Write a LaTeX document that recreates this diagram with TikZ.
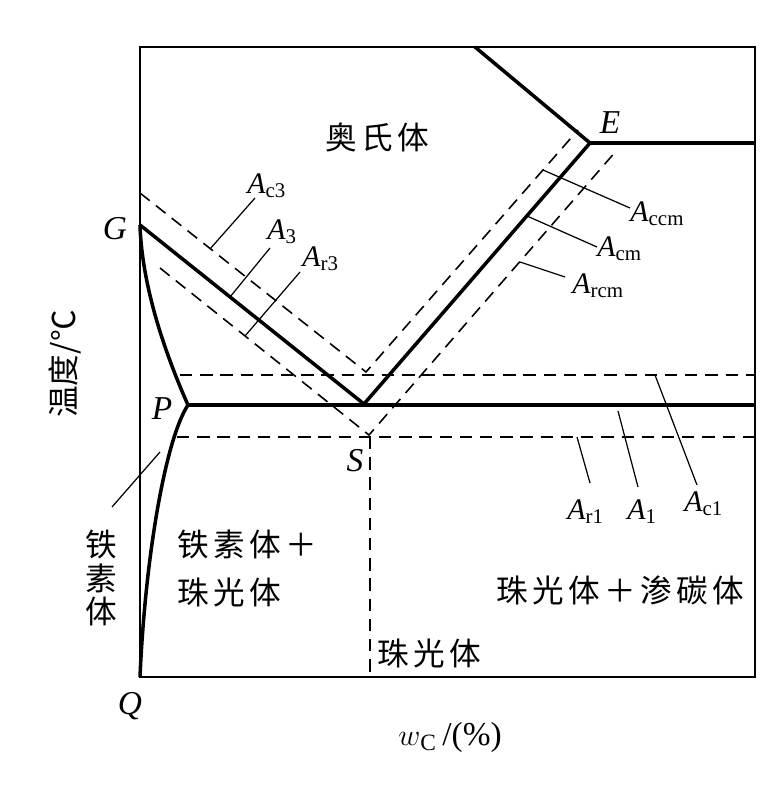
\documentclass[tikz,border=0pt]{standalone}
\usepackage{fontspec}
\setmainfont{Liberation Serif}
\newfontfamily\cjk[LetterSpace=14]{Noto Sans CJK SC}
\newfontfamily\cjkplain{Noto Sans CJK SC}
\usetikzlibrary{positioning}
\tikzset{
	frameline/.style={
			line width=1.2pt
		},
	phaseline/.style={
			line width=2pt
		},
	critline/.style={
			line width=0.9pt,
			dash pattern=on 7pt off 4.5pt
		},
	leaderline/.style={
			line width=0.7pt
		},
	phaselabel/.style={
			font=\cjk\fontsize{18}{19}\selectfont,
			inner sep=0pt
		},
	pointlabel/.style={
			font=\fontsize{19}{22}\selectfont\itshape,
			inner sep=0pt
		},
	critlabel/.style={
			font=\fontsize{17}{20}\selectfont,
			inner sep=0pt,
			anchor=base west
		}
}
\newcommand{\critA}[1]{\textit{A}\textsubscript{#1}}

\begin{document}
\begin{tikzpicture}[x=0.02cm, y=-0.02cm]
\useasboundingbox (0,0) rectangle (780,801);

\coordinate (G) at (140,225);
\coordinate (P) at (188,405);
\coordinate (S) at (364,404);
\coordinate (E) at (590,143);
\coordinate (Q) at (140,677);
\coordinate (Etop) at (475,47);
\coordinate (Eright) at (755,143);
\coordinate (Pright) at (755,405);

\draw[frameline] (140,47) rectangle (755,677);

% phase boundaries
\draw[phaseline] (Etop) -- (E) -- (Eright);
\draw[phaseline] (G) -- (S) -- (E);
\draw[phaseline] (P) -- (Pright);
\draw[phaseline] (G) .. controls (142,290) and (168,360) .. (P);
\draw[phaseline] (P) .. controls (165,440) and (145,560) .. (Q);

% heating / cooling lines
\coordinate (c3start) at (140,193);
\coordinate (cV) at (366,372);
\coordinate (ccmend) at (578,130);
\coordinate (r3start) at (160,268);
\coordinate (rV) at (369,435);
\coordinate (rcmend) at (617,150);
\coordinate (c1start) at (180,375);
\coordinate (c1end) at (755,375);
\coordinate (r1start) at (177,437);
\coordinate (r1end) at (755,437);
\coordinate (Sdown) at (370,437);
\coordinate (Sbottom) at (370,677);

\draw[critline] (c3start) -- (cV) -- (ccmend);
\draw[critline] (r3start) -- (rV) -- (rcmend);
\draw[critline, line width=1.1pt] (c1start) -- (c1end);
\draw[critline, line width=1.1pt] (r1start) -- (r1end);
\draw[critline] (Sdown) -- (Sbottom);

% leaders
\coordinate (ac3foot) at (210,249);
\coordinate (ac3tip) at (255,198);
\coordinate (a3foot) at (230,297);
\coordinate (a3tip) at (270,248);
\coordinate (ar3foot) at (245,336);
\coordinate (ar3tip) at (300,272);
\coordinate (accmfoot) at (543,170);
\coordinate (accmtip) at (630,208);
\coordinate (acmfoot) at (527,216);
\coordinate (acmtip) at (597,247);
\coordinate (arcmfoot) at (520,262);
\coordinate (arcmtip) at (565,277);
\coordinate (ar1foot) at (577,437);
\coordinate (ar1tip) at (590,483);
\coordinate (a1foot) at (618,411);
\coordinate (a1tip) at (638,487);
\coordinate (ac1foot) at (655,375);
\coordinate (ac1tip) at (697,485);
\coordinate (ferfoot) at (160,452);
\coordinate (fertip) at (112,507);

\foreach \n in {ac3,a3,ar3,accm,acm,arcm,ar1,a1,ac1,fer}
  \draw[leaderline] (\n foot) -- (\n tip);

\node[critlabel] (ac3) at (247,193) {\critA{c3}};
\node[critlabel] (a3) at (267,239) {\critA{3}};
\node[critlabel] (ar3) at (302,266) {\critA{r3}};
\node[critlabel] (accm) at (630,221) {\critA{ccm}};
\node[critlabel] (acm) at (597,256) {\critA{cm}};
\node[critlabel] (arcm) at (572,293) {\critA{rcm}};
\node[critlabel] (ar1) at (567,519) {\critA{r1}};
\node[critlabel] (a1) at (627,519) {\critA{1}};
\node[critlabel] (ac1) at (684,511) {\critA{c1}};

\node[pointlabel] (Elab) at (610,123) {E};
\node[pointlabel] (Glab) at (115,229) {G};
\node[pointlabel] (Plab) at (162,409) {P};
\node[pointlabel] (Slab) at (355,461) {S};
\node[pointlabel] (Qlab) at (130,706) {Q};

\node[phaselabel] (austenite) at (377,137) {奥氏体};
\node[phaselabel, align=center] (ferrite) at (101,578) {铁\\素\\体};
\node[phaselabel, anchor=west] (fp1) at (177,544) {铁素体＋};
\node[phaselabel, anchor=west] (fp2) at (177,592) {珠光体};
\node[phaselabel] (pc) at (620,590) {珠光体＋渗碳体};
\node[phaselabel] (pearlite) at (429,653) {珠光体};

\node[font=\fontsize{19}{22}\selectfont, inner sep=0pt] (xlab) at (450,737)
  {$w$\textsubscript{C}\,/(\%)};
\node[font=\cjkplain\fontsize{18}{20}\selectfont, inner sep=0pt, rotate=90] (ylab)
  at (65,364) {温度/℃};
\end{tikzpicture}
\end{document}
